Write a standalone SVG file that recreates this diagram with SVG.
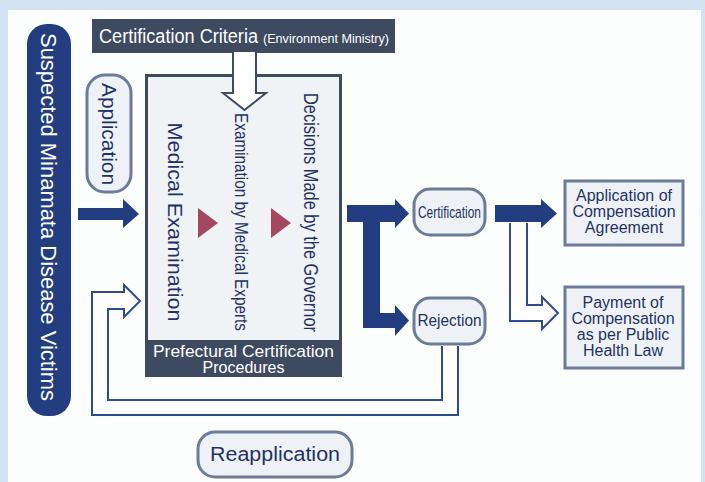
<svg xmlns="http://www.w3.org/2000/svg" width="705" height="482" viewBox="0 0 705 482">
  <defs>
    <style>
      .t { font-family: "Liberation Sans", Arial, sans-serif; }
      .navy { fill: #223e80; }
      .slate { fill: #3d4a60; }
      .ink { fill: #1f3266; }
      .white { fill: #ffffff; }
      .pill { fill: #eef2f6; stroke: #6c7c98; stroke-width: 3; }
      .box { fill: #eef2f6; stroke: #6c7c98; stroke-width: 3; }
      .hollow { fill: #ffffff; stroke: #2d4d8e; stroke-width: 2; stroke-linejoin: miter; }
      .step { fill: #a3485f; }
    </style>
  </defs>

  <!-- page background and panel -->
  <rect x="0" y="0" width="705" height="482" fill="#d3e3f1"/>
  <rect x="8" y="10" width="693" height="472" fill="#fcfdfd"/>

  <!-- victims -->
  <g id="victims">
    <rect x="27" y="24" width="44" height="392" rx="20" class="navy"/>
    <text class="t white" font-size="22" text-anchor="middle" dominant-baseline="central"
          transform="translate(48,217) rotate(90)" textLength="368" lengthAdjust="spacingAndGlyphs">Suspected Minamata Disease Victims</text>
  </g>

  <!-- certification criteria -->
  <g id="criteria">
    <rect x="92" y="19" width="303" height="34" class="slate"/>
    <text class="t white" x="99" y="43" font-size="20" textLength="159" lengthAdjust="spacingAndGlyphs">Certification Criteria</text>
    <text class="t white" x="263" y="43" font-size="12" textLength="126" lengthAdjust="spacingAndGlyphs">(Environment Ministry)</text>
  </g>

  <!-- application label -->
  <g id="application">
    <rect x="87" y="75" width="44" height="117" rx="18" class="pill"/>
    <text class="t ink" font-size="20" text-anchor="middle" dominant-baseline="central"
          transform="translate(109,134) rotate(90)" textLength="102" lengthAdjust="spacingAndGlyphs">Application</text>
  </g>

  <!-- prefectural certification procedures -->
  <g id="procedures">
    <rect x="145" y="74" width="197" height="303" class="slate"/>
    <rect x="148" y="77" width="191" height="263" fill="#f0f3f6"/>
    <text class="t ink" font-size="21" text-anchor="middle" dominant-baseline="central"
          transform="translate(175,222) rotate(90)" textLength="199" lengthAdjust="spacingAndGlyphs">Medical Examination</text>
    <polygon class="step" points="198,208 218,223 198,238"/>
    <text class="t ink" font-size="19" text-anchor="middle" dominant-baseline="central"
          transform="translate(241,222) rotate(90)" textLength="218" lengthAdjust="spacingAndGlyphs">Examination by Medical Experts</text>
    <polygon class="step" points="271,208 291,223 271,238"/>
    <text class="t ink" font-size="20" text-anchor="middle" dominant-baseline="central"
          transform="translate(311,212.5) rotate(90)" textLength="239" lengthAdjust="spacingAndGlyphs">Decisions Made by the Governor</text>
    <text class="t white" x="243.5" y="357" font-size="16" text-anchor="middle" textLength="181" lengthAdjust="spacingAndGlyphs">Prefectural Certification</text>
    <text class="t white" x="243.5" y="373" font-size="16" text-anchor="middle">Procedures</text>
  </g>

  <!-- certification -->
  <g id="certification">
    <rect x="414" y="189" width="71" height="46" rx="16" class="pill"/>
    <text class="t ink" x="449.5" y="218" font-size="17" text-anchor="middle" textLength="63" lengthAdjust="spacingAndGlyphs">Certification</text>
  </g>

  <!-- rejection -->
  <g id="rejection">
    <rect x="414" y="298" width="71" height="46" rx="16" class="pill"/>
    <text class="t ink" x="449.5" y="326" font-size="17" text-anchor="middle" textLength="64" lengthAdjust="spacingAndGlyphs">Rejection</text>
  </g>

  <!-- compensation agreement -->
  <g id="agreement">
    <rect x="565" y="181" width="118" height="64" class="box"/>
    <text class="t ink" x="624" y="201" font-size="16" text-anchor="middle">Application of</text>
    <text class="t ink" x="624" y="217" font-size="16" text-anchor="middle">Compensation</text>
    <text class="t ink" x="624" y="233" font-size="16" text-anchor="middle">Agreement</text>
  </g>

  <!-- public health law payment -->
  <g id="payment">
    <rect x="565" y="287" width="118" height="81" class="box"/>
    <text class="t ink" x="623" y="308" font-size="16" text-anchor="middle">Payment of</text>
    <text class="t ink" x="623" y="324" font-size="16" text-anchor="middle">Compensation</text>
    <text class="t ink" x="623" y="340" font-size="16" text-anchor="middle">as per Public</text>
    <text class="t ink" x="623" y="356" font-size="16" text-anchor="middle">Health Law</text>
  </g>

  <!-- reapplication label -->
  <g id="reapplication">
    <rect x="198" y="432" width="154" height="45" rx="17" class="pill"/>
    <text class="t ink" x="275" y="461" font-size="20" text-anchor="middle" textLength="130" lengthAdjust="spacingAndGlyphs">Reapplication</text>
  </g>

  <!-- connectors, drawn over the boxes they touch -->
  <g id="connectors">
    <!-- criteria feeding the procedure box -->
    <path class="hollow" style="stroke:#3d4a60" d="M233,52 V93 H223 L244.5,110 L266,93 H256 V52"/>
    <!-- application arrow -->
    <polygon class="navy" points="78,208 123,208 123,199 139,214 123,228 123,220 78,220"/>
    <!-- outcome bracket: certification / rejection -->
    <polygon class="navy" points="347,205 395,205 395,199 409,213.5 395,228 395,222 380,222 380,313 395,313 395,305 409,320.5 395,336 395,328 363,328 363,222 347,222"/>
    <!-- certification to compensation agreement -->
    <polygon class="navy" points="495,205 541,205 541,199 557,213.5 541,228 541,222 495,222"/>
    <!-- certification to public health law payment -->
    <path class="hollow" d="M510,223 V321 H542 V329 L558,313 L542,297 V305 H527 V223"/>
    <!-- reapplication loop -->
    <path class="hollow" d="M458,346 V415 H92 V292 H124 V285 L140,301 L124,317 V309 H108 V400 H442 V346"/>
  </g>
</svg>
